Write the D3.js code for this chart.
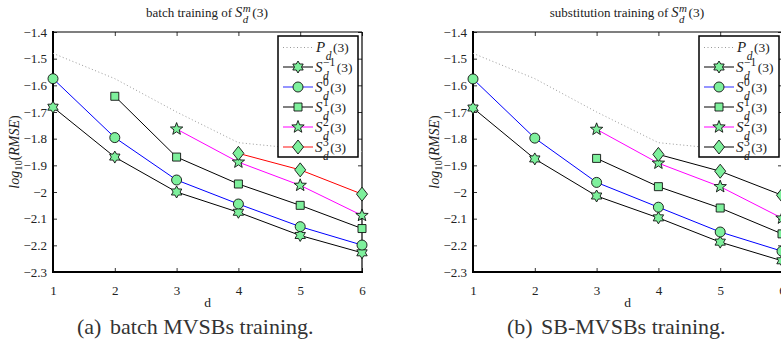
<!DOCTYPE html>
<html><head><meta charset="utf-8">
<script src="https://cdn.jsdelivr.net/npm/d3@7"></script>
<style>
body{margin:0;background:#fff;}
</style></head>
<body><svg id="c" width="781" height="347"></svg>
<script>
// ---------- data ----------
const dValues = [1, 2, 3, 4, 5, 6];
const yTicks = [-1.4, -1.5, -1.6, -1.7, -1.8, -1.9, -2.0, -2.1, -2.2, -2.3];
const yTickLabels = ["−1.4", "−1.5", "−1.6", "−1.7", "−1.8", "−1.9", "−2", "−2.1", "−2.2", "−2.3"];
const xTickLabels = ["1", "2", "3", "4", "5", "6"];
const seriesNames = ["P", "S-1", "S0", "S1", "S2", "S3"];

// batch training
const batchP   = [-1.480, -1.575, -1.700, -1.815, -1.838, -1.848];
const batchSm1 = [-1.682, -1.869, -2.000, -2.076, -2.163, -2.228];
const batchS0  = [-1.575, -1.796, -1.955, -2.045, -2.130, -2.199];
const batchS1  = [null, -1.641, -1.869, -1.970, -2.050, -2.137];
const batchS2  = [null, null, -1.764, -1.888, -1.975, -2.088];
const batchS3  = [null, null, null, -1.855, -1.917, -2.008];

// substitution training
const subP   = [-1.480, -1.575, -1.700, -1.815, -1.838, -1.848];
const subSm1 = [-1.685, -1.876, -2.015, -2.097, -2.188, -2.258];
const subS0  = [-1.576, -1.798, -1.964, -2.057, -2.150, -2.222];
const subS1  = [null, null, -1.874, -1.980, -2.060, -2.157];
const subS2  = [null, null, -1.765, -1.892, -1.980, -2.098];
const subS3  = [null, null, null, -1.859, -1.922, -2.012];

// ---------- drawing ----------
const FONT = "Liberation Serif";
const svg = d3.select("#c").attr("font-family", FONT);
const fillG = "#7ef09c";

function hexagramPath(R) {
  const r = R * 0.58, pts = [];
  for (let i = 0; i < 12; i++) {
    const a = -Math.PI / 2 + i * Math.PI / 6;
    const rr = i % 2 === 0 ? R : r;
    pts.push([rr * Math.cos(a), rr * Math.sin(a)]);
  }
  return "M" + pts.map(p => p.join(",")).join("L") + "Z";
}
function pentagramPath(R) {
  const r = R * 0.42, pts = [];
  for (let i = 0; i < 10; i++) {
    const a = -Math.PI / 2 + i * Math.PI / 5;
    const rr = i % 2 === 0 ? R : r;
    pts.push([rr * Math.cos(a), rr * Math.sin(a)]);
  }
  return "M" + pts.map(p => p.join(",")).join("L") + "Z";
}
const markerPaths = {
  hex: hexagramPath(6),
  circle: d3.symbol(d3.symbolCircle, Math.PI * 5 * 5)(),
  square: "M-4,-4L4,-4L4,4L-4,4Z",
  star: pentagramPath(6.5),
  diamond: "M0,-7L5.5,0L0,7L-5.5,0Z"
};

function drawMarker(g, x, y, type) {
  g.append("path").attr("d", markerPaths[type])
    .attr("transform", `translate(${x},${y})`)
    .attr("fill", fillG).attr("stroke", "#111").attr("stroke-width", 0.9);
}

function scriptText(g, x, baseY, base, sup, sub, tail, sizes) {
  const t = g.append("text").attr("x", x).attr("y", baseY).attr("font-family", FONT)
    .attr("font-size", sizes.base).attr("font-style", "italic").attr("fill", "#222").text(base);
  const bw = t.node().getComputedTextLength();
  let sw = 0, dw = 0;
  if (sup !== null) {
    const s = g.append("text").attr("x", x + bw + 0.5).attr("y", baseY - sizes.supDy).attr("font-family", FONT)
      .attr("font-size", sizes.script).attr("fill", "#222").text(sup);
    if (/[a-z]/.test(sup)) s.attr("font-style", "italic");
    sw = s.node().getComputedTextLength();
  }
  const d = g.append("text").attr("x", x + bw + 0.5).attr("y", baseY + sizes.subDy).attr("font-family", FONT)
    .attr("font-size", sizes.script).attr("font-style", "italic").attr("fill", "#222").text(sub);
  dw = d.node().getComputedTextLength();
  g.append("text").attr("x", x + bw + 0.5 + Math.max(sw, dw) + 1.5).attr("y", baseY).attr("font-family", FONT)
    .attr("font-size", sizes.tail).attr("fill", "#222").text(tail);
}

function panel(cfg) {
  const g = svg.append("g");
  const x = d3.scaleLinear().domain([1, 6]).range([cfg.x0, cfg.x1]);
  const y = d3.scaleLinear().domain([-2.3, -1.4]).range([272, 32]);

  const ax = d3.axisBottom(x).tickValues(dValues).tickSize(-4).tickPadding(14)
    .tickFormat((d, i) => xTickLabels[i]);
  const gx = g.append("g").attr("transform", "translate(0,272)").call(ax);
  const at = d3.axisTop(x).tickValues(dValues).tickSize(-4).tickFormat("");
  const gt = g.append("g").attr("transform", "translate(0,32)").call(at);
  const ay = d3.axisLeft(y).tickValues(yTicks).tickSize(-4).tickPadding(6)
    .tickFormat((d, i) => yTickLabels[i]);
  const gy = g.append("g").attr("transform", `translate(${cfg.x0},0)`).call(ay);
  const ar = d3.axisRight(y).tickValues(yTicks).tickSize(-4).tickFormat("");
  const gr = g.append("g").attr("transform", `translate(${cfg.x1},0)`).call(ar);
  [gx, gt, gy, gr].forEach(a => {
    a.attr("font-family", FONT).attr("font-size", 13);
    a.select(".domain").remove();
    a.selectAll(".tick line").attr("stroke", "#000").attr("stroke-width", 0.8);
    a.selectAll("text").attr("font-family", FONT).attr("font-size", 13).attr("fill", "#222");
  });

  g.append("line").attr("x1", cfg.x0).attr("x2", cfg.x1).attr("y1", 32).attr("y2", 32)
    .attr("stroke", "#000").attr("stroke-width", 1.2);
  g.append("line").attr("x1", cfg.x1).attr("x2", cfg.x1).attr("y1", 32).attr("y2", 272)
    .attr("stroke", "#000").attr("stroke-width", 1.2);
  g.append("line").attr("x1", cfg.x0).attr("x2", cfg.x0).attr("y1", 31).attr("y2", 273)
    .attr("stroke", "#000").attr("stroke-width", 2);
  g.append("line").attr("x1", cfg.x0 - 1).attr("x2", cfg.x1 + 1).attr("y1", 272).attr("y2", 272)
    .attr("stroke", "#000").attr("stroke-width", 2);

  const line = d3.line().defined(d => d[1] !== null).x(d => x(d[0])).y(d => y(d[1]));
  g.append("path").attr("d", line(dValues.map((d, i) => [d, cfg.P[i]])))
    .attr("fill", "none").attr("stroke", "#999").attr("stroke-width", 1).attr("stroke-dasharray", "1,2.5");

  cfg.series.forEach(s => {
    const pts = dValues.map((d, i) => [d, s.v[i]]).filter(p => p[1] !== null);
    g.append("path").attr("d", line(pts)).attr("fill", "none")
      .attr("stroke", s.color).attr("stroke-width", 1);
  });
  cfg.series.forEach(s => {
    dValues.forEach((d, i) => { if (s.v[i] !== null) drawMarker(g, x(d), y(s.v[i]), s.marker); });
  });

  // legend
  const lx = cfg.legX, ly = 36, lw = 80, lh = 121;
  g.append("rect").attr("x", lx).attr("y", ly).attr("width", lw).attr("height", lh)
    .attr("fill", "#fff").attr("stroke", "#000").attr("stroke-width", 1.5);
  const rowY = [47.5, 67, 87, 107, 127, 147];
  const lsz = { base: 15, script: 11.5, tail: 13.5, supDy: 6.5, subDy: 8 };
  g.append("line").attr("x1", lx + 5).attr("x2", lx + 35).attr("y1", rowY[0]).attr("y2", rowY[0])
    .attr("stroke", "#999").attr("stroke-dasharray", "1,2.5");
  scriptText(g, lx + 38, rowY[0] + 4.5, "P", null, "d", "(3)", lsz);
  const sups = ["−1", "0", "1", "2", "3"];
  cfg.series.forEach((s, k) => {
    const yy = rowY[k + 1];
    g.append("line").attr("x1", lx + 5).attr("x2", lx + 35).attr("y1", yy).attr("y2", yy)
      .attr("stroke", s.legColor || s.color).attr("stroke-width", s.legW || 1);
    drawMarker(g, lx + 20, yy, s.marker);
    scriptText(g, lx + 37, yy + 5, "S", sups[k], "d", "(3)", lsz);
  });

  // title
  const tg = g.append("g");
  const tt = tg.append("text").attr("y", 17).attr("font-size", 13).attr("font-family", FONT)
    .attr("fill", "#222").text(cfg.title);
  const tw = tt.node().getComputedTextLength();
  const tmp = tg.append("g");
  scriptText(tmp, 0, 17, "S", "m", "d", "(3)", { base: 14.5, script: 11, tail: 13.5, supDy: 5.5, subDy: 5.5 });
  const sw = tmp.node().getBBox().width;
  const total = tw + 3 + sw;
  const start = cfg.titleCx - total / 2;
  tt.attr("x", start);
  tmp.attr("transform", `translate(${start + tw + 3},0)`);

  g.append("text").attr("x", (cfg.x0 + cfg.x1) / 2).attr("y", 307).attr("text-anchor", "middle")
    .attr("font-family", FONT).attr("font-size", 13.5).attr("fill", "#222").text("d");

  const yl = g.append("text").attr("transform", `translate(${cfg.yLabX},152) rotate(-90)`)
    .attr("text-anchor", "middle").attr("font-family", FONT).attr("font-size", 14).attr("fill", "#222");
  yl.append("tspan").attr("font-style", "italic").text("log");
  yl.append("tspan").attr("font-size", 10.5).attr("dy", 3).text("10");
  yl.append("tspan").attr("dy", -3).text("(");
  yl.append("tspan").attr("font-style", "italic").text("RMSE");
  yl.append("tspan").text(")");

  // caption: label + text with a wide gap
  const cap = g.append("text").attr("y", 334).attr("font-family", FONT).attr("font-size", 22).attr("fill", "#333");
  cap.append("tspan").attr("x", cfg.capX0).text(cfg.capLabel);
  cap.append("tspan").attr("x", cfg.capX1).text(cfg.caption);
}

panel({
  x0: 53, x1: 362, legX: 278, titleCx: 207, yLabX: 19, capX0: 77, capX1: 110,
  title: "batch training of", capLabel: "(a)", caption: "batch MVSBs training.",
  P: batchP,
  series: [
    { v: batchSm1, color: "#000", marker: "hex" },
    { v: batchS0, color: "#0000ff", marker: "circle", legColor: "#7070ff", legW: 1.5 },
    { v: batchS1, color: "#000", marker: "square" },
    { v: batchS2, color: "#ff00ff", marker: "star" },
    { v: batchS3, color: "#ff0000", marker: "diamond", legColor: "#ff6060", legW: 1.5 }
  ]
});
panel({
  x0: 473, x1: 782, legX: 699, titleCx: 627, yLabX: 439, capX0: 507, capX1: 541,
  title: "substitution training of", capLabel: "(b)", caption: "SB-MVSBs training.",
  P: subP,
  series: [
    { v: subSm1, color: "#000", marker: "hex" },
    { v: subS0, color: "#0000ff", marker: "circle", legColor: "#7070ff", legW: 1.5 },
    { v: subS1, color: "#000", marker: "square" },
    { v: subS2, color: "#ff00ff", marker: "star" },
    { v: subS3, color: "#000", marker: "diamond", legColor: "#555", legW: 1.5 }
  ]
});
</script></body></html>
